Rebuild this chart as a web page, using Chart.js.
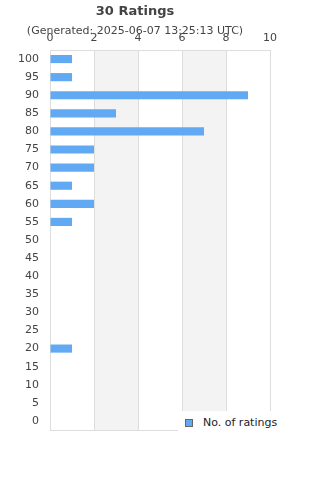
<!DOCTYPE html>
<html>
<head>
<meta charset="utf-8">
<script src="https://cdn.jsdelivr.net/npm/chart.js@4/dist/chart.umd.min.js"></script>
<style>
  html, body { margin: 0; padding: 0; background: #fff; }
  #wrap { position: relative; width: 320px; height: 480px; }
  #legend {
    position: absolute; left: 178px; top: 411px; width: 142px; height: 26px;
    background: #fff; font: 11px 'DejaVu Sans', sans-serif; color: #222;
  }
  #legend .box {
    position: absolute; left: 7px; top: 8px; width: 6px; height: 6px;
    border: 1px solid #666;
  }
  #legend .txt { position: absolute; left: 25px; top: 5px; }
</style>
</head>
<body>
<div id="wrap">
  <canvas id="chart" width="320" height="480"></canvas>
  <div id="legend"><span class="box"></span><span class="txt"></span></div>
</div>
<script>
// rating buckets, top to bottom
const ratings = ['100', '95', '90', '85', '80', '75', '70', '65', '60', '55', '50',
                 '45', '40', '35', '30', '25', '20', '15', '10', '5', '0'];
const counts = [1, 1, 9, 3, 7, 2, 2, 1, 2, 1, 0,
                0, 0, 0, 0, 0, 1, 0, 0, 0, 0];
const xTicks = [0, 2, 4, 6, 8, 10];
const bands = [[2, 4], [6, 8]];

const seriesName = 'No. of ratings';
const barColor = '#62a9f4';
const textColor = '#444';
const lineColor = '#ddd';

document.querySelector('#legend .box').style.background = barColor;
document.querySelector('#legend .txt').textContent = seriesName;

// grey bands behind the bars + bottom frame line
const frame = {
    id: 'frame',
    beforeDraw(chart) {
        const { ctx, chartArea: a, scales: { x } } = chart;
        ctx.save();
        ctx.fillStyle = '#f3f3f3';
        bands.forEach(b => {
            const x0 = x.getPixelForValue(b[0]);
            const x1 = x.getPixelForValue(b[1]);
            ctx.fillRect(x0, a.top, x1 - x0, a.bottom - a.top);
        });
        ctx.restore();
    },
    afterDraw(chart) {
        const { ctx, chartArea: a } = chart;
        ctx.save();
        ctx.strokeStyle = lineColor;
        ctx.lineWidth = 1;
        ctx.beginPath();
        ctx.moveTo(a.left, a.bottom + 0.5);
        ctx.lineTo(a.right, a.bottom + 0.5);
        ctx.stroke();
        ctx.restore();
    }
};

Chart.defaults.font.family = "'DejaVu Sans', sans-serif";
Chart.defaults.color = textColor;

new Chart(
    document.getElementById('chart'),
    {
        type: 'bar',
        data: {
            labels: ratings,
            datasets: [
                {
                    label: seriesName,
                    data: counts,
                    backgroundColor: barColor,
                    categoryPercentage: 1,
                    barPercentage: 0.45
                }
            ]
        },
        options: {
            indexAxis: 'y',
            responsive: false,
            animation: false,
            layout: { padding: { left: 0, right: 50, bottom: 50, top: 0 } },
            plugins: {
                legend: { display: false },
                tooltip: { enabled: false },
                title: {
                    display: true,
                    text: '30 Ratings',
                    color: textColor,
                    font: { size: 13, weight: 'bold' },
                    padding: { top: 4, bottom: 4.8 }
                },
                subtitle: {
                    display: true,
                    text: '(Generated: 2025-06-07 13:25:13 UTC)',
                    color: textColor,
                    font: { size: 11 },
                    padding: { top: 0, bottom: -7.6 }
                }
            },
            scales: {
                x: {
                    position: 'top',
                    min: 0,
                    max: 10,
                    afterBuildTicks: s => { s.ticks = xTicks.map(v => ({ value: v })); },
                    afterFit: s => { s.height = 20; },
                    ticks: { font: { size: 11 }, color: textColor, padding: 5 },
                    grid: { color: lineColor, drawTicks: false },
                    border: { color: lineColor }
                },
                y: {
                    afterFit: s => { s.width = 50; },
                    ticks: { font: { size: 11 }, color: textColor, padding: 11 },
                    grid: { display: false, drawTicks: false },
                    border: { color: lineColor }
                }
            }
        },
        plugins: [frame]
    }
);
</script>
</body>
</html>
